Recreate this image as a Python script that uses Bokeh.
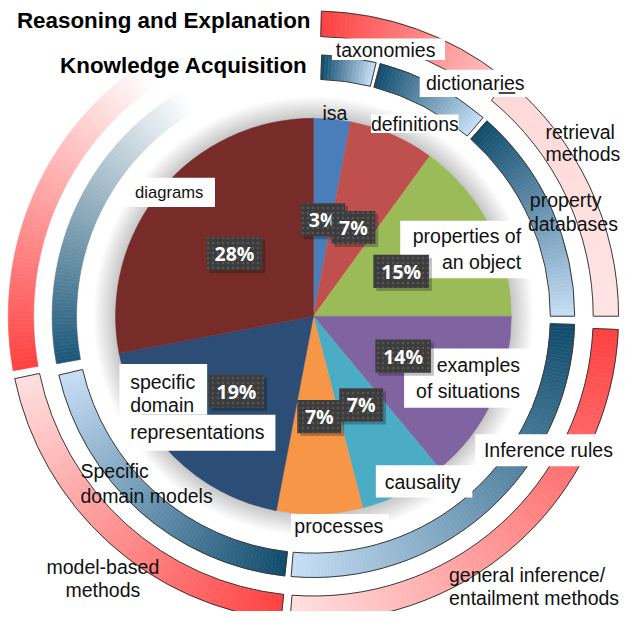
import numpy as np
from bokeh.plotting import figure
from bokeh.models import Range1d
from bokeh.embed import file_html
from bokeh.resources import INLINE
from bokeh.core.properties import value

# ---------------- data ----------------
slice_names = ["isa", "definitions", "properties of an object", "examples of situations",
               "causality", "processes", "specific domain representations", "diagrams"]
slice_values = [3, 7, 15, 14, 7, 7, 19, 28]
slice_colors = ["#4A7EBB", "#C0504D", "#9BBB59", "#8064A2",
                "#4BACC6", "#F79646", "#2C4D75", "#772C2A"]

# inner (blue) ring: Knowledge Acquisition, spans in degrees clockwise from 12 o'clock
inner_names = ["taxonomies", "dictionaries", "property databases", "Inference rules",
               "Specific domain models", ""]
inner_start = [1.8, 14.8, 41.6, 91.8, 186.3, 259.5]
inner_end = [13.9, 40.5, 90.0, 184.9, 257.0, 330.0]

# outer (red) ring: Reasoning and Explanation
outer_names = ["", "retrieval methods", "general inference/ entailment methods",
               "model-based methods", ""]
outer_start = [1.5, 39.5, 92.5, 186.1, 259.7]
outer_end = [38.0, 90.0, 184.4, 258.2, 326.0]

# ---------------- styles / layout ----------------
BLUE_D, BLUE_L = "#0F4B6C", "#C7DFF6"
RED_D, RED_L = "#FF4040", "#FFE0E0"
inner_c0 = [BLUE_D, BLUE_D, BLUE_D, BLUE_D, BLUE_D, "#1B5677"]
inner_c1 = [BLUE_L, BLUE_L, BLUE_L, BLUE_L, BLUE_L, "#FFFFFF"]
inner_outline = [True, True, True, True, True, False]
outer_c0 = [RED_D, "#FFD8D8", RED_D, RED_D, RED_D]
outer_c1 = ["#FFC4C4", "#FFE4E4", RED_L, RED_L, "#FFFFFF"]
outer_outline = [True, True, True, True, False]

W, H = 621, 611
S = W / 637.0  # scale from reference pixels to canvas pixels


def Y(ry):
    return 627 - ry


def fs(px):
    return "%.1fpx" % (px * S)


CX, CY = 321, Y(324)
R_PIE = 203
R_IN0, R_IN1 = 243, 268
R_OUT0, R_OUT1 = 287, 313

p = figure(width=W, height=H, x_range=Range1d(0, 637), y_range=Range1d(0, 627),
           output_backend="svg", toolbar_location=None, min_border=0,
           x_axis_location=None, y_axis_location=None)
p.grid.visible = False
p.outline_line_color = None
p.background_fill_color = "white"
p.border_fill_color = "white"


def hex2rgb(h):
    return tuple(int(h[i:i + 2], 16) for i in (1, 3, 5))


def lerp(c0, c1, t):
    a, b = hex2rgb(c0), hex2rgb(c1)
    return "#%02x%02x%02x" % tuple(int(round(a[i] + (b[i] - a[i]) * t)) for i in range(3))


# glow around pie
for i in range(1, 12):
    p.annulus(x=CX, y=CY, inner_radius=R_PIE - 1, outer_radius=R_PIE + 2 * i,
              fill_color="#000000", fill_alpha=0.02, line_color=None)

# pie
cum = np.concatenate([[0], np.cumsum(slice_values)]) / sum(slice_values) * 360.0
p.wedge(x=CX, y=CY, radius=R_PIE,
        start_angle=[np.radians(90 - b) for b in cum[1:]],
        end_angle=[np.radians(90 - b) for b in cum[:-1]],
        fill_color=slice_colors, line_color=slice_colors, line_width=0.5)


def ring(starts, ends, c0s, c1s, outl, r0, r1):
    sa, ea, cols = [], [], []
    osa, oea = [], []
    for s, e, c0, c1, o in zip(starts, ends, c0s, c1s, outl):
        n = max(10, int((e - s) / 0.8))
        edges = np.linspace(s, e, n + 1)
        for k in range(n):
            t = (k + 0.5) / n
            cols.append(lerp(c0, c1, t))
            sa.append(np.radians(90 - edges[k + 1]))
            ea.append(np.radians(90 - edges[k]))
        if o:
            osa.append(np.radians(90 - e))
            oea.append(np.radians(90 - s))
    p.annular_wedge(x=CX, y=CY, inner_radius=r0, outer_radius=r1, start_angle=sa, end_angle=ea,
                    fill_color=cols, line_color=cols, line_width=0.6)
    p.annular_wedge(x=CX, y=CY, inner_radius=r0, outer_radius=r1, start_angle=osa, end_angle=oea,
                    fill_color=None, line_color="#3A3A3A", line_width=1)


ring(inner_start, inner_end, inner_c0, inner_c1, inner_outline, R_IN0, R_IN1)
ring(outer_start, outer_end, outer_c0, outer_c1, outer_outline, R_OUT0, R_OUT1)

# white label boxes (ref pixel coords: left, top, right, bottom)
boxes = [(380, 117, 470, 136), (340, 39, 456, 61), (430, 71, 545, 99),
         (410, 226, 544, 285), (414, 357, 545, 418), (487, 445, 637, 478),
         (385, 477, 484, 510), (298, 527, 398, 552), (128, 182, 220, 212),
         (122, 373, 212, 425), (122, 425, 282, 462)]
p.quad(left=[b[0] for b in boxes], right=[b[2] for b in boxes],
       top=[Y(b[1]) for b in boxes], bottom=[Y(b[3]) for b in boxes],
       fill_color="white", line_color=None)

FONT = value("Liberation Sans")
TC = "#111111"


def label(xs, ys, texts, align, size=20):
    p.text(x=xs, y=[Y(v) for v in ys], text=texts, text_font=FONT, text_font_size=fs(size),
           text_align=align, text_baseline="middle", text_color=TC)


label([343, 425, 395, 487, 562, 433, 347], [115, 127, 51, 85, 461, 494, 539],
      ["isa", "definitions", "taxonomies", "dictionaries", "Inference rules", "causality", "processes"],
      "center")
label([173], [197], ["diagrams"], "center", 17)
label([105, 105], [581, 605], ["model-based", "methods"], "center")
label([534, 534, 533, 533], [242, 268, 374, 401],
      ["properties of", "an object", "examples", "of situations"], "right")
label([559, 559, 543, 541, 133, 133, 133, 82, 82, 460, 460],
      [135, 158, 205, 229, 391, 415, 443, 483, 508, 590, 613],
      ["retrieval", "methods", "property", "databases", "specific", "domain", "representations",
       "Specific", "domain models", "general inference/", "entailment methods"], "left")
# spell-check underline in "dictionaries"
p.segment(x0=[511], y0=[Y(95)], x1=[528], y1=[Y(95)], line_color="#111111", line_width=1.5)

# percentage boxes
pct_centers = [(331, 225), (362, 233), (411, 278), (413, 365), (370, 415), (327, 427), (242, 401), (240, 260)]
order = [0, 1, 2, 3, 5, 4, 6, 7]
for i in order:
    cx, cy = pct_centers[i]
    txt = "%d%%" % slice_values[i]
    w = 45 if len(txt) == 2 else 57
    h = 34
    p.quad(left=[cx - w / 2 + 3], right=[cx + w / 2 + 3], top=[Y(cy - h / 2 + 3)], bottom=[Y(cy + h / 2 + 3)],
           fill_color="#000000", fill_alpha=0.25, line_color=None)
    p.quad(left=[cx - w / 2], right=[cx + w / 2], top=[Y(cy - h / 2)], bottom=[Y(cy + h / 2)],
           fill_color="#3C3C3C", line_color=None, hatch_pattern="dot", hatch_color="#555555",
           hatch_scale=5, hatch_weight=1)
    p.text(x=[cx], y=[Y(cy)], text=[txt], text_font=value("Open Sans"), text_font_style="bold",
           text_font_size=fs(20), text_align="center", text_baseline="middle", text_color="white")

# titles
p.text(x=[318], y=[Y(21)], text=["Reasoning and Explanation"], text_font=FONT, text_font_style="bold",
       text_font_size=fs(23), text_align="right", text_baseline="middle", text_color="#000000")
p.text(x=[315], y=[Y(67)], text=["Knowledge Acquisition"], text_font=FONT, text_font_style="bold",
       text_font_size=fs(23), text_align="right", text_baseline="middle", text_color="#000000")

open("out.html", "w").write(file_html(p, INLINE))
